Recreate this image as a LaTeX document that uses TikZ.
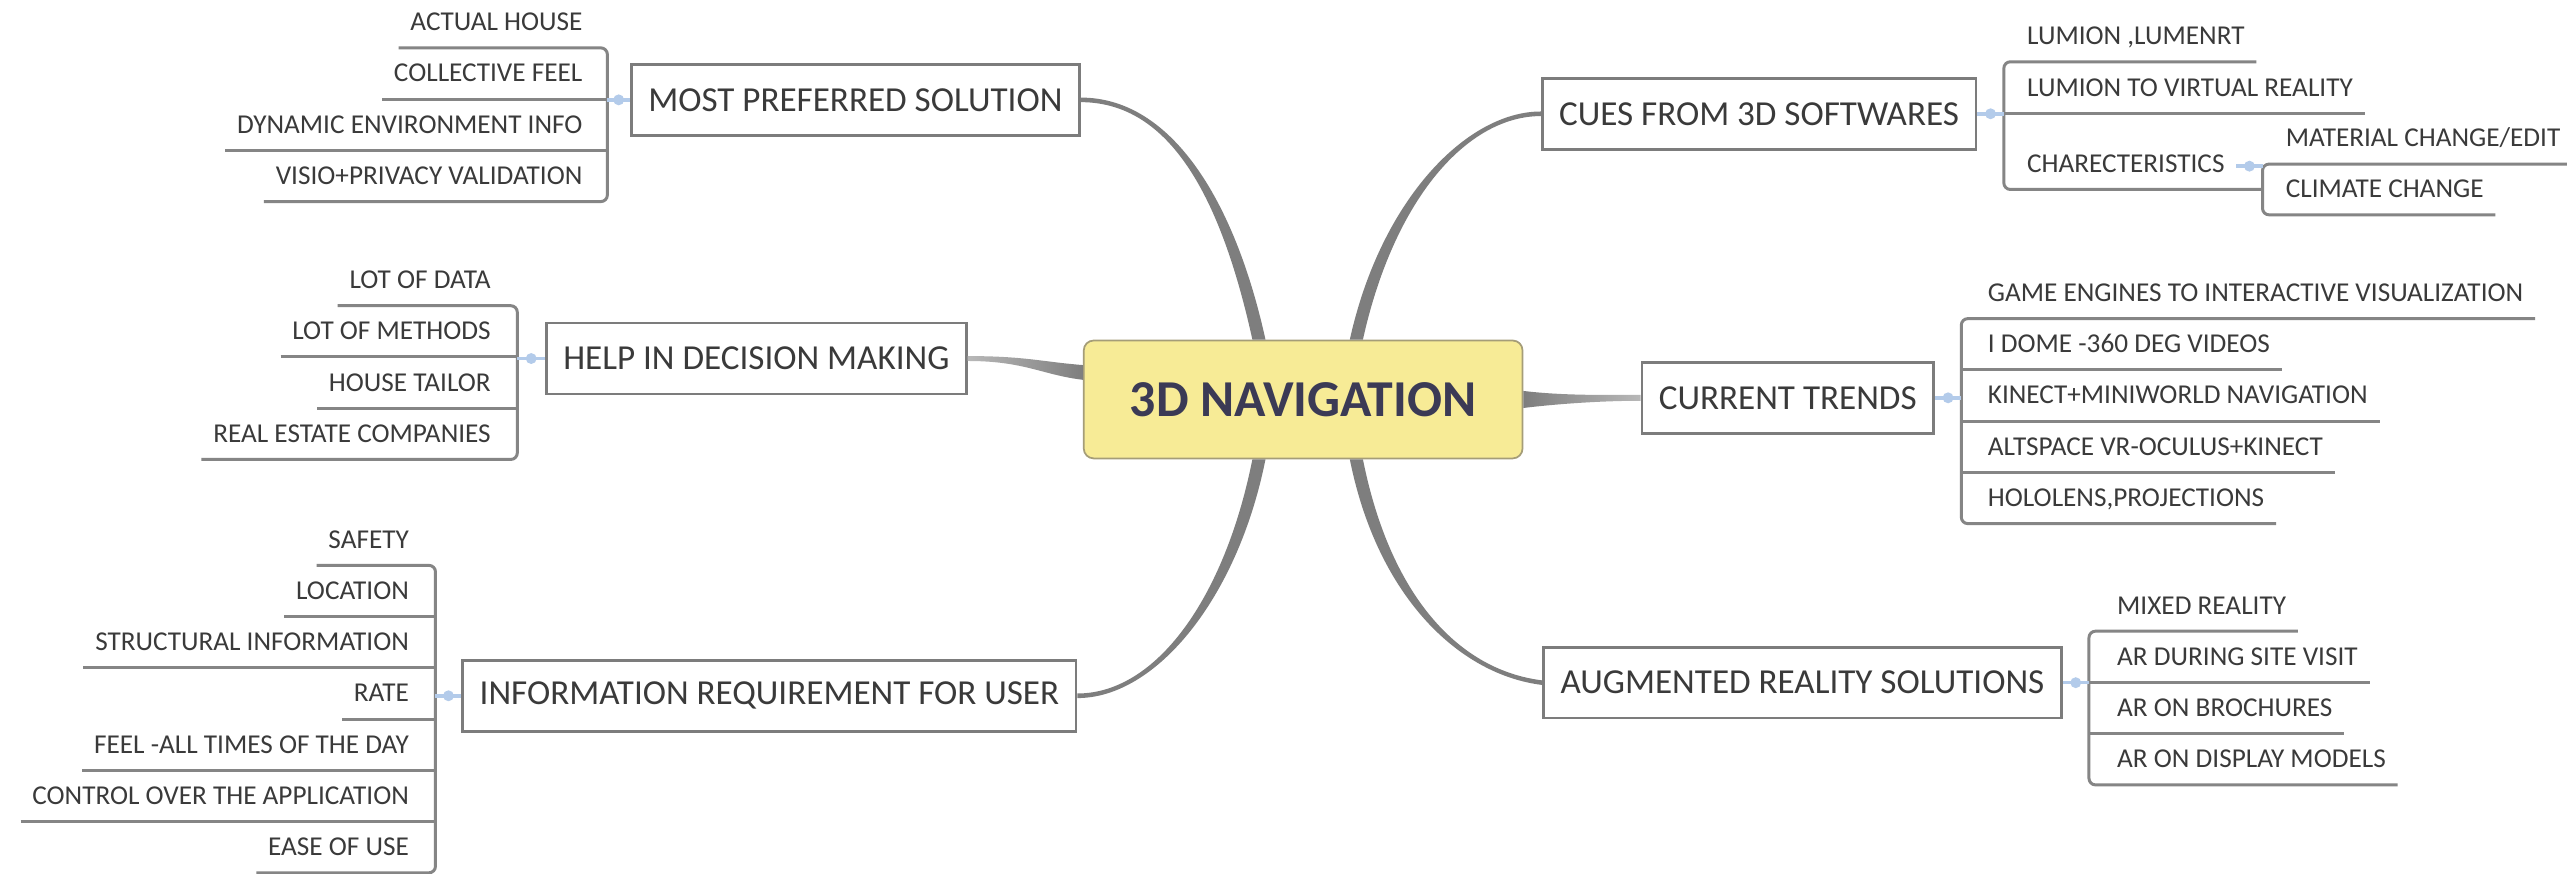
\documentclass[tikz,border=0pt]{standalone}
\usepackage{fontspec}
\setmainfont{Carlito}
\usetikzlibrary{calc}
\definecolor{navfill}{HTML}{F7EB96}
\definecolor{navedge}{HTML}{A59D78}
\definecolor{navtext}{HTML}{3B3A55}
\definecolor{branchgray}{HTML}{7E7E7E}
\definecolor{boxedge}{HTML}{7C7C7C}
\definecolor{leafgray}{HTML}{858585}
\definecolor{linkblue}{HTML}{B3CBEA}
\definecolor{textgray}{HTML}{3A3A3A}
\tikzset{
  nav/.style={draw=navedge, line width=0.9pt, fill=navfill, rounded corners=1.8mm,
    minimum width=80.4mm, minimum height=21.6mm, text=navtext,
    font=\fontsize{27}{30}\selectfont\bfseries},
  topic/.style={draw=boxedge, line width=1.35pt, fill=white, inner xsep=3.1mm,
    minimum height=13mm, text=textgray, font=\fontsize{18.3}{20}\selectfont},
  leaf/.style={font=\fontsize{14.2}{16}\selectfont, text=textgray, inner xsep=2.1mm,
    inner ysep=0pt, minimum height=8.4mm, text height=0.644em, text depth=0pt},
  leafL/.style={leaf, anchor=east},
  leafR/.style={leaf, anchor=west},
  under/.style={draw=leafgray, line width=1.55pt, rounded corners=1.2mm},
  branch/.style={fill=branchgray},
  link/.style={draw=linkblue, line width=1.8pt},
  linkdot/.style={circle, fill=linkblue, inner sep=0pt, minimum size=2mm}
}
\begin{document}
\begin{tikzpicture}[x=0.3mm, y=-0.3mm]
    \useasboundingbox[fill=white] (0,0) rectangle (1568,533.3);

    \node[nav] (nav) at (796,244) {3D NAVIGATION};

    \node[topic] (mps) at (522.5,61) {MOST PREFERRED SOLUTION};
    \node[topic] (help) at (462,219) {HELP IN DECISION MAKING};
    \node[topic] (info) at (470,425) {INFORMATION REQUIREMENT FOR USER};
    \node[topic] (cues) at (1074.5,69.5) {CUES FROM 3D SOFTWARES};
    \node[topic] (trends) at (1092,243) {CURRENT TRENDS};
    \node[topic] (ar) at (1101,417) {AUGMENTED REALITY SOLUTIONS};

    \coordinate (n1) at ($(nav.north)+(-27,0)$);
    \coordinate (n4) at ($(nav.north)+(32.5,0)$);
    \coordinate (n3) at ($(nav.south)+(-27,0)$);
    \coordinate (n6) at ($(nav.south)+(32.5,0)$);
    \coordinate (n2) at ($(nav.west)+(0,-16.5)$);

    \fill[branch] ($(n1)+(-4,0)$) .. controls +(-19,-86) and +(55,0) .. ($(mps.east)+(0,1.4)$)
        -- ($(mps.east)+(0,-1.4)$) .. controls +(55,0) and +(-19,-86) .. ($(n1)+(4,0)$) -- cycle;
    \fill[branch] ($(n4)+(-4,0)$) .. controls +(19,-86) and +(-45,0) .. ($(cues.west)+(0,-1.4)$)
        -- ($(cues.west)+(0,1.4)$) .. controls +(-45,0) and +(19,-86) .. ($(n4)+(4,0)$) -- cycle;
    \fill[branch] ($(n3)+(-4,0)$) .. controls +(-17,85) and +(48,0) .. ($(info.east)+(0,-1.4)$)
        -- ($(info.east)+(0,1.4)$) .. controls +(48,0) and +(-17,85) .. ($(n3)+(4,0)$) -- cycle;
    \fill[branch] ($(n6)+(4,0)$) .. controls +(17,85) and +(-50,-6) .. ($(ar.west)+(0,-1.4)$)
        -- ($(ar.west)+(0,1.4)$) .. controls +(-50,-6) and +(17,85) .. ($(n6)+(-4,0)$) -- cycle;
    \shade[left color=branchgray!55, right color=branchgray] ($(help.east)+(0,-1.5)$)
        .. controls +(35,0) and +(-25,-2) .. ($(n2)+(0,-4.5)$) -- ($(n2)+(0,4.5)$)
        .. controls +(-25,-3) and +(35,0) .. ($(help.east)+(0,1.5)$) -- cycle;
    \shade[left color=branchgray, right color=branchgray!55] ($(nav.east)+(0,-5.2)$)
        .. controls +(25,3) and +(-20,0) .. ($(trends.west)+(0,-1.8)$) -- ($(trends.west)+(0,1.8)$)
        .. controls +(-20,0) and +(25,-3) .. ($(nav.east)+(0,5.2)$) -- cycle;

    \node[leafL] (ah) at (363,15) {ACTUAL HOUSE};
    \node[leafL] (cf) at (363,46.3) {COLLECTIVE FEEL};
    \node[leafL] (dei) at (363,77.6) {DYNAMIC ENVIRONMENT INFO};
    \node[leafL] (vpv) at (363,108.9) {VISIO+PRIVACY VALIDATION};
    \coordinate (mpsb) at (371,0);
    \draw[under] (ah.south west) -- (ah.south -| mpsb) -- (vpv.south -| mpsb) -- (vpv.south west);
    \draw[under] (cf.south west) -- (cf.south -| mpsb);
    \draw[under] (dei.south west) -- (dei.south -| mpsb);
    \draw[link] (mpsb |- mps.west) -- (mps.west);
    \node[linkdot] (mpsd) at ($(mpsb |- mps.west)!0.5!(mps.west)$) {};

    \node[leafL] (lod) at (307,172.5) {LOT OF DATA};
    \node[leafL] (lom) at (307,203.8) {LOT OF METHODS};
    \node[leafL] (ht) at (307,235.1) {HOUSE TAILOR};
    \node[leafL] (rec) at (307,266.4) {REAL ESTATE COMPANIES};
    \coordinate (helpb) at (316,0);
    \draw[under] (lod.south west) -- (lod.south -| helpb) -- (rec.south -| helpb) -- (rec.south west);
    \draw[under] (lom.south west) -- (lom.south -| helpb);
    \draw[under] (ht.south west) -- (ht.south -| helpb);
    \draw[link] (helpb |- help.west) -- (help.west);
    \node[linkdot] (helpd) at ($(helpb |- help.west)!0.5!(help.west)$) {};

    \node[leafL] (saf) at (257,331.1) {SAFETY};
    \node[leafL] (loc) at (257,362.4) {LOCATION};
    \node[leafL] (sti) at (257,393.7) {STRUCTURAL INFORMATION};
    \node[leafL] (rate) at (257,425) {RATE};
    \node[leafL] (feel) at (257,456.3) {FEEL -ALL TIMES OF THE DAY};
    \node[leafL] (ctrl) at (257,487.6) {CONTROL OVER THE APPLICATION};
    \node[leafL] (ease) at (257,518.9) {EASE OF USE};
    \coordinate (infob) at (266,0);
    \draw[under] (saf.south west) -- (saf.south -| infob) -- (ease.south -| infob) -- (ease.south west);
    \foreach \n in {loc,sti,rate,feel,ctrl}
        \draw[under] (\n.south west) -- (\n.south -| infob);
    \draw[link] (infob |- info.west) -- (info.west);
    \node[linkdot] (infod) at ($(infob |- info.west)!0.5!(info.west)$) {};

    \node[leafR] (lum) at (1231,23.5) {LUMION ,LUMENRT};
    \node[leafR] (lvr) at (1231,55) {LUMION TO VIRTUAL REALITY};
    \node[leafR] (chr) at (1231,101.5) {CHARECTERISTICS};
    \node[leafR] (mat) at (1389,86) {MATERIAL CHANGE/EDIT};
    \node[leafR] (cli) at (1389,117) {CLIMATE CHANGE};
    \coordinate (cuesb) at (1224,0);
    \coordinate (chrb) at (1382,0);
    \draw[under] (lum.south east) -- (lum.south -| cuesb) -- (chr.south -| cuesb) -- (chr.south -| chrb);
    \draw[under] (cuesb |- lvr.south) -- (lvr.south east);
    \draw[under] (mat.south east) -- (mat.south -| chrb) -- (cli.south -| chrb) -- (cli.south east);
    \draw[link] (cues.east) -- (cuesb |- cues.east);
    \node[linkdot] (cuesd) at ($(cues.east)!0.5!(cuesb |- cues.east)$) {};
    \draw[link] (chr.east) -- (chrb |- chr.east);
    \node[linkdot] (chrd) at ($(chr.east)!0.5!(chrb |- chr.east)$) {};

    \node[leafR] (ge) at (1207,180.4) {GAME ENGINES TO INTERACTIVE VISUALIZATION};
    \node[leafR] (idome) at (1207,211.7) {I DOME -360 DEG VIDEOS};
    \node[leafR] (kin) at (1207,243) {KINECT+MINIWORLD NAVIGATION};
    \node[leafR] (alt) at (1207,274.3) {ALTSPACE VR-OCULUS+KINECT};
    \node[leafR] (holo) at (1207,305.6) {HOLOLENS,PROJECTIONS};
    \coordinate (trendsb) at (1198,0);
    \draw[under] (ge.south east) -- (ge.south -| trendsb) -- (holo.south -| trendsb) -- (holo.south east);
    \foreach \n in {idome,kin,alt}
        \draw[under] (trendsb |- \n.south) -- (\n.south east);
    \draw[link] (trends.east) -- (trendsb |- trends.east);
    \node[linkdot] (trendsd) at ($(trends.east)!0.5!(trendsb |- trends.east)$) {};

    \node[leafR] (mixr) at (1286,371.3) {MIXED REALITY};
    \node[leafR] (arsite) at (1286,402.6) {AR DURING SITE VISIT};
    \node[leafR] (arbro) at (1286,433.9) {AR ON BROCHURES};
    \node[leafR] (ardisp) at (1286,465.2) {AR ON DISPLAY MODELS};
    \coordinate (arb) at (1276,0);
    \draw[under] (mixr.south east) -- (mixr.south -| arb) -- (ardisp.south -| arb) -- (ardisp.south east);
    \foreach \n in {arsite,arbro}
        \draw[under] (arb |- \n.south) -- (\n.south east);
    \draw[link] (ar.east) -- (arb |- ar.east);
    \node[linkdot] (ard) at ($(ar.east)!0.5!(arb |- ar.east)$) {};
\end{tikzpicture}
\end{document}
